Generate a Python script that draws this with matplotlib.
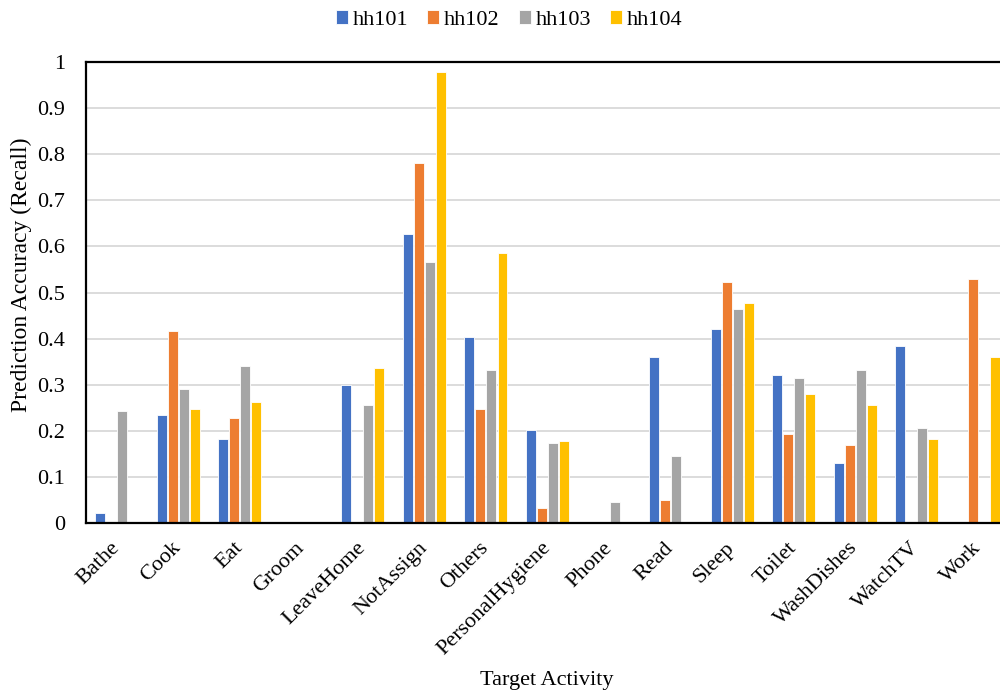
import matplotlib
matplotlib.use("Agg")
import matplotlib.pyplot as plt
import numpy as np

categories = ["Bathe", "Cook", "Eat", "Groom", "LeaveHome", "NotAssign", "Others",
              "PersonalHygiene", "Phone", "Read", "Sleep", "Toilet", "WashDishes",
              "WatchTV", "Work"]
hh101 = [0.021, 0.235, 0.183, 0.0, 0.300, 0.627, 0.404, 0.202, 0.0, 0.360, 0.420, 0.320, 0.130, 0.385, 0.0]
hh102 = [0.0, 0.416, 0.227, 0.0, 0.0, 0.780, 0.247, 0.033, 0.0, 0.049, 0.522, 0.194, 0.170, 0.0, 0.530]
hh103 = [0.243, 0.291, 0.340, 0.0, 0.255, 0.566, 0.332, 0.174, 0.045, 0.146, 0.465, 0.315, 0.332, 0.207, 0.0]
hh104 = [0.0, 0.247, 0.263, 0.0, 0.336, 0.978, 0.586, 0.178, 0.0, 0.0, 0.477, 0.279, 0.255, 0.183, 0.360]

series_names = ["hh101", "hh102", "hh103", "hh104"]
series_values = [hh101, hh102, hh103, hh104]
colors = ["#4472C4", "#ED7D31", "#A5A5A5", "#FFC000"]
y_ticks = [0, 0.1, 0.2, 0.3, 0.4, 0.5, 0.6, 0.7, 0.8, 0.9, 1]
y_tick_labels = ["0", "0.1", "0.2", "0.3", "0.4", "0.5", "0.6", "0.7", "0.8", "0.9", "1"]

plt.rcParams["font.family"] = ["Liberation Serif", "DejaVu Serif"]

W, H = 1000, 695
fig = plt.figure(figsize=(W / 100, H / 100), dpi=100)
# plot area runs a little past the right edge of the canvas
ax = fig.add_axes([0.086, 1 - 523 / H, 0.923, (523 - 62) / H])

x = np.arange(len(categories))
width = 0.162
pitch = 0.179
for i, (name, vals, c) in enumerate(zip(series_names, series_values, colors)):
    offs = (i - 1.5) * pitch
    ax.bar(x + offs, vals, width, color=c, label=name, edgecolor="white",
           linewidth=0.6, zorder=3)

ax.set_xlim(-0.5, len(categories) - 0.5)
ax.set_ylim(0, 1)
ax.set_yticks(y_ticks)
ax.set_yticklabels(y_tick_labels)
ax.set_xticks(x)
ax.set_xticklabels(categories, rotation=45, ha="right", va="center", rotation_mode="anchor")
ax.tick_params(axis="both", length=0, labelsize=16)
ax.tick_params(axis="y", pad=15)
ax.tick_params(axis="x", pad=16)

ax.yaxis.grid(True, color="#D9D9D9", linewidth=1.3, zorder=0)
ax.set_axisbelow(True)
for side in ["left", "bottom", "top", "right"]:
    ax.spines[side].set_color("black")
    ax.spines[side].set_linewidth(1.6)
    ax.spines[side].set_zorder(5)

ax.set_ylabel("Prediction Accuracy (Recall)", fontsize=17)
ax.yaxis.label.set_va("center")
ax.yaxis.set_label_coords(-(86 - 21.5) / 923, (523 - 275) / 461)
ax.set_xlabel("Target Activity", fontsize=16)
ax.xaxis.label.set_va("center")
ax.xaxis.set_label_coords((547 - 86) / 923, -(680 - 523) / 461)

fig.legend(loc="center", bbox_to_anchor=(509 / W, 1 - 20 / H), ncol=4, frameon=False,
           fontsize=16, handlelength=0.54, handleheight=0.54, handletextpad=0.22,
           columnspacing=0.85)

fig.savefig("out.png", dpi=100)
